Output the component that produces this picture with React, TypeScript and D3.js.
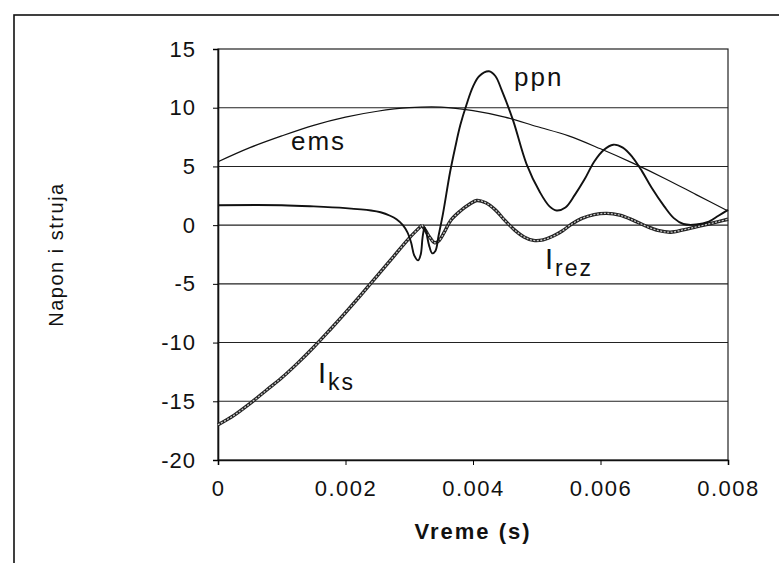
import { useEffect, useRef } from 'react';
import * as d3 from 'd3';

// time in seconds, values in volts/amps
const emsData: [number, number][] = [
  [0, 5.4], [0.0005, 6.6], [0.001, 7.6], [0.0015, 8.5], [0.002, 9.2], [0.0025, 9.7],
  [0.003, 10.0], [0.0035, 10.05], [0.004, 9.75], [0.0045, 9.2], [0.005, 8.4],
  [0.0055, 7.6], [0.006, 6.5], [0.0065, 5.3], [0.007, 4.0], [0.0075, 2.6], [0.008, 1.2],
];

const ppnData: [number, number][] = [
  [0, 1.7], [0.001, 1.7], [0.0015, 1.6], [0.002, 1.45], [0.0024, 1.25], [0.00255, 1.1],
  [0.0027, 0.8], [0.0028, 0.5], [0.0029, 0.0], [0.00297, -0.6], [0.00303, -1.5],
  [0.00308, -2.6], [0.00314, -3.0], [0.00318, -2.5], [0.00321, -1.0], [0.00324, -0.2],
  [0.00327, -0.7], [0.00331, -1.7], [0.00336, -2.4], [0.00341, -2.2], [0.00346, -0.9],
  [0.00353, 1.0], [0.00364, 4.5], [0.00372, 6.6], [0.0038, 8.5], [0.0039, 10.3],
  [0.004, 11.8], [0.0041, 12.7], [0.00425, 13.1], [0.00435, 12.7], [0.00445, 11.5],
  [0.00463, 8.9], [0.00484, 5.2], [0.00505, 2.8], [0.0052, 1.6], [0.00531, 1.25],
  [0.00545, 1.5], [0.0056, 2.6], [0.00575, 3.9], [0.0059, 5.4], [0.00605, 6.4],
  [0.0062, 6.85], [0.00635, 6.6], [0.0065, 5.8], [0.00665, 4.6], [0.0068, 3.2],
  [0.007, 1.6], [0.00715, 0.6], [0.0073, 0.1], [0.0075, 0.05], [0.0077, 0.3],
  [0.00785, 0.8], [0.008, 1.3],
];

const iksData: [number, number][] = [
  [0, -17.0], [0.00025, -16.2], [0.0005, -15.2], [0.00075, -14.1], [0.001, -13.0],
  [0.00125, -11.75], [0.0015, -10.4], [0.00175, -8.95], [0.002, -7.45], [0.00225, -5.9],
  [0.0025, -4.3], [0.00275, -2.7], [0.003, -1.1], [0.0032, 0.0],
];

const irezData: [number, number][] = [
  [0.0032, 0.0], [0.00326, -0.5], [0.00333, -1.1], [0.0034, -1.5], [0.00347, -1.3],
  [0.00355, -0.6], [0.00365, 0.4], [0.0038, 1.2], [0.00395, 1.8], [0.00406, 2.1],
  [0.0042, 1.9], [0.00435, 1.3], [0.0045, 0.4], [0.00465, -0.4], [0.0048, -1.0],
  [0.00495, -1.3], [0.0051, -1.25], [0.00525, -0.95], [0.0054, -0.5], [0.00555, 0.1],
  [0.0057, 0.55], [0.0059, 0.9], [0.0061, 1.0], [0.0063, 0.85], [0.0065, 0.45],
  [0.0067, -0.05], [0.0069, -0.45], [0.0071, -0.6], [0.0073, -0.4], [0.0075, -0.15],
  [0.0077, 0.1], [0.00785, 0.3], [0.008, 0.5],
];

const xTicks = [0, 0.002, 0.004, 0.006, 0.008];
const xTickLabels = ['0', '0.002', '0.004', '0.006', '0.008'];
const yTicks = [-20, -15, -10, -5, 0, 5, 10, 15];
const yTickLabels = ['-20', '-15', '-10', '-5', '0', '5', '10', '15'];

const App = () => {
  const svgRef = useRef<SVGSVGElement>(null);

  useEffect(() => {
    const svg = d3.select(svgRef.current);
    svg.selectAll('*').remove();

    const left = 218, right = 728, top = 49, bottom = 460;
    const font = '"Liberation Sans", Arial, sans-serif';

    const x = d3.scaleLinear().domain([0, 0.008]).range([left, right]);
    const y = d3.scaleLinear().domain([-20, 15]).range([bottom, top]);

    // outer frame
    svg.append('rect')
      .attr('x', 14).attr('y', 15)
      .attr('width', 900).attr('height', 700)
      .attr('fill', 'none').attr('stroke', '#111').attr('stroke-width', 1.6);

    // gridlines
    svg.append('g')
      .selectAll('line')
      .data(yTicks.filter(d => d > -20 && d < 15))
      .enter().append('line')
      .attr('x1', left).attr('x2', right)
      .attr('y1', d => y(d)).attr('y2', d => y(d))
      .attr('stroke', '#222').attr('stroke-width', 1.1);

    // plot border
    svg.append('rect')
      .attr('x', left).attr('y', top)
      .attr('width', right - left).attr('height', bottom - top)
      .attr('fill', 'none').attr('stroke', '#222').attr('stroke-width', 1.2);

    // axes
    const yAxis = d3.axisLeft(y)
      .tickValues(yTicks)
      .tickFormat((d, i) => yTickLabels[i])
      .tickSize(5).tickPadding(17);
    const gy = svg.append('g').attr('transform', `translate(${left},0)`).call(yAxis);
    gy.select('.domain').attr('stroke', '#111').attr('stroke-width', 1.6);
    gy.selectAll('text')
      .style('font-family', font).style('font-size', '22px').style('letter-spacing', '1px')
      .attr('fill', '#111');

    const xAxis = d3.axisBottom(x)
      .tickValues(xTicks)
      .tickFormat((d, i) => xTickLabels[i])
      .tickSize(5).tickPadding(15);
    const gx = svg.append('g').attr('transform', `translate(0,${bottom})`).call(xAxis);
    gx.select('.domain').attr('stroke', '#111').attr('stroke-width', 1.6);
    gx.selectAll('text')
      .style('font-family', font).style('font-size', '22px').style('letter-spacing', '1.5px')
      .attr('fill', '#111');

    const line = d3.line<[number, number]>()
      .x(d => x(d[0]))
      .y(d => y(d[1]))
      .curve(d3.curveCatmullRom.alpha(0.5));

    // ems - thin black
    svg.append('path').datum(emsData)
      .attr('fill', 'none').attr('stroke', '#111').attr('stroke-width', 1.2)
      .attr('d', line);

    // currents - outlined gray
    [iksData, irezData].forEach(data => {
      svg.append('path').datum(data)
        .attr('fill', 'none').attr('stroke', '#222').attr('stroke-width', 3.4)
        .attr('d', line);
      svg.append('path').datum(data)
        .attr('fill', 'none').attr('stroke', '#c8c8c8').attr('stroke-width', 1.3)
        .attr('stroke-dasharray', '2 1.5')
        .attr('d', line);
    });

    // ppn - black
    svg.append('path').datum(ppnData)
      .attr('fill', 'none').attr('stroke', '#111').attr('stroke-width', 1.9)
      .attr('d', line);

    // series labels
    const label = (tx: number, ty: number, main: string, sub?: string) => {
      const t = svg.append('text')
        .attr('x', tx).attr('y', ty)
        .style('font-family', font).style('letter-spacing', '2px')
        .attr('fill', '#111');
      if (sub) {
        t.append('tspan').style('font-size', '29px').text(main);
        t.append('tspan').attr('dy', 7).style('font-size', '23px').text(sub);
      } else {
        t.style('font-size', '26px').text(main);
      }
    };
    label(514, 86, 'ppn');
    label(291, 150, 'ems');
    label(318, 383, 'I', 'ks');
    label(545, 269, 'I', 'rez');

    // axis titles
    svg.append('text')
      .attr('x', (left + right) / 2).attr('y', 539)
      .attr('text-anchor', 'middle')
      .style('font-family', font).style('font-size', '22px').style('font-weight', 'bold')
      .style('letter-spacing', '2px')
      .attr('fill', '#111')
      .text('Vreme (s)');

    svg.append('text')
      .attr('transform', `translate(63,${(top + bottom) / 2}) rotate(-90)`)
      .attr('text-anchor', 'middle')
      .style('font-family', font).style('font-size', '20px')
      .style('letter-spacing', '1.5px')
      .attr('fill', '#111')
      .text('Napon i struja');
  }, []);

  return (
    <svg ref={svgRef} width={779} height={563}
      style={{ position: 'absolute', left: 0, top: 0, background: '#fff' }} />
  );
};

export default App;
